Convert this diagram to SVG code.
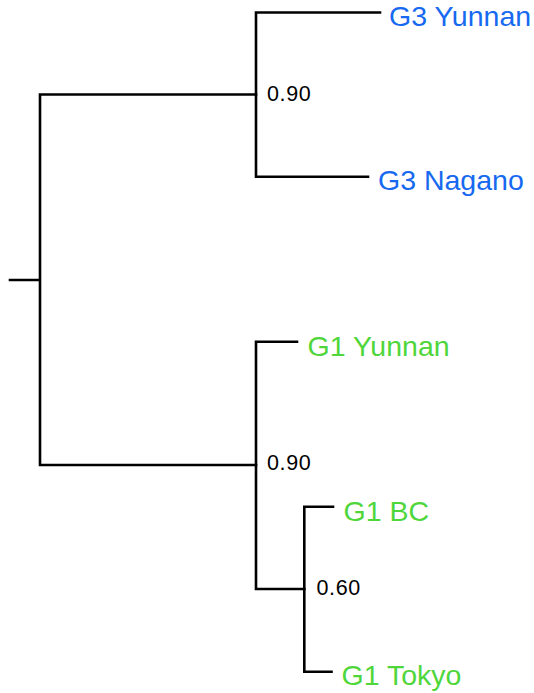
<svg xmlns="http://www.w3.org/2000/svg" width="534" height="693" viewBox="0 0 534 693">
<style>
.br{fill:none;stroke:#000;stroke-width:2.6;stroke-linecap:square}
.lab{font-family:"Liberation Sans",Arial,sans-serif;font-size:28.5px}
.g3{fill:#1769f0}
.g1{fill:#4fd63b}
.sup{font-family:"Liberation Sans",Arial,sans-serif;font-size:21.5px;letter-spacing:0.6px;fill:#000}
</style>
<rect width="534" height="693" fill="#fff"/>
<g id="connectors">
<path class="br" d="M10,280 H40 M40,94.5 V465 M40,94.5 H256 M40,465 H256"/>
<path class="br" d="M256,12.5 V176.7 M256,12.5 H380 M256,176.7 H368"/>
<path class="br" d="M256,341.7 V589 M256,341.7 H297 M256,589 H304.3"/>
<path class="br" d="M304.3,506.7 V671.7 M304.3,506.7 H333 M304.3,671.7 H331.5"/>
</g>
<g id="node-g3-yunnan"><text class="lab g3" x="389" y="26">G3 Yunnan</text></g>
<g id="node-g3-nagano"><text class="lab g3" x="378" y="189.5">G3 Nagano</text></g>
<g id="node-g1-yunnan"><text class="lab g1" x="307.5" y="355.5">G1 Yunnan</text></g>
<g id="node-g1-bc"><text class="lab g1" x="343.5" y="521">G1 BC</text></g>
<g id="node-g1-tokyo"><text class="lab g1" x="341.5" y="685">G1 Tokyo</text></g>
<g id="node-g3"><text class="sup" x="267" y="100.5">0.90</text></g>
<g id="node-g1"><text class="sup" x="267" y="469.5">0.90</text></g>
<g id="node-g1-inner"><text class="sup" x="316.5" y="595">0.60</text></g>
</svg>
